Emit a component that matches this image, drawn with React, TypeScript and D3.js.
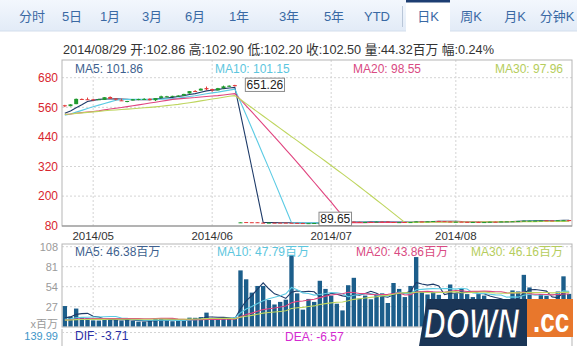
import React from 'react';
import * as d3 from 'd3';

const FONT = '"Liberation Sans", Arial, "Noto Sans CJK SC", sans-serif';

// ---------- data ----------
const dates = [
  '04/24','04/25','04/28','04/29','04/30',
  '05/01','05/02','05/05','05/06','05/07','05/08','05/09','05/12','05/13','05/14','05/15','05/16','05/19','05/20','05/21','05/22','05/23','05/27','05/28','05/29','05/30',
  '06/02','06/03','06/04','06/05','06/06','06/09','06/10','06/11','06/12','06/13','06/16','06/17','06/18','06/19','06/20','06/23','06/24','06/25','06/26','06/27','06/30',
  '07/01','07/02','07/03','07/07','07/08','07/09','07/10','07/11','07/14','07/15','07/16','07/17','07/18','07/21','07/22','07/23','07/24','07/25','07/28','07/29','07/30','07/31',
  '08/01','08/04','08/05','08/06','08/07','08/08','08/11','08/12','08/13','08/14','08/15','08/18','08/19','08/20','08/21','08/22','08/25','08/26','08/27','08/28','08/29'
];

const opens = [
  568.21,564.53,572.80,593.74,592.64,
  592.00,592.34,590.14,601.80,595.25,588.25,584.54,587.49,591.00,592.43,594.70,588.63,597.85,604.51,603.83,606.60,607.25,615.88,626.02,627.85,637.98,
  633.96,628.46,637.44,646.20,649.90,92.70,94.73,94.13,94.04,92.20,91.51,92.31,92.27,92.29,91.85,91.32,90.75,90.21,90.37,90.82,92.10,
  93.52,93.87,93.67,94.14,96.27,95.44,93.76,95.36,95.86,96.80,96.97,95.03,93.62,94.99,94.68,95.42,97.04,96.85,97.82,99.33,98.44,97.16,
  94.90,96.37,95.36,94.75,94.93,94.26,95.27,96.04,96.15,97.33,97.90,98.49,99.41,100.44,100.57,100.29,101.79,101.42,101.02,101.59,102.86
];
const highs = [
  570.00,571.99,595.75,595.98,599.43,
  594.80,594.20,601.00,604.41,597.29,594.41,586.25,593.66,594.54,597.40,596.60,597.53,607.33,606.40,606.70,609.85,614.73,625.86,629.83,636.87,644.17,
  634.83,638.74,647.89,649.37,651.26,93.88,95.05,94.76,94.12,92.44,92.75,92.70,92.29,92.30,92.55,91.62,91.74,90.70,91.05,92.00,93.73,
  94.07,94.06,94.10,95.99,96.80,95.95,95.55,95.89,96.89,96.85,97.10,95.28,94.74,95.00,94.89,97.88,97.32,97.84,99.24,99.44,98.70,97.45,
  96.62,96.58,95.68,95.48,95.95,94.82,96.08,96.88,97.24,97.57,98.19,99.37,100.68,101.09,100.94,101.47,102.17,101.50,102.57,102.78,102.90
];
const lows = [
  560.73,563.96,572.55,589.51,589.80,
  586.36,589.71,590.00,594.41,587.73,586.40,580.33,587.40,588.81,591.74,588.04,585.40,597.33,600.73,602.06,604.10,606.47,615.63,623.78,627.77,628.90,
  622.50,628.25,636.11,642.61,644.47,91.75,93.57,93.47,91.90,90.88,91.45,91.80,91.35,91.34,90.90,90.60,90.19,89.65,89.80,90.77,92.09,
  93.13,93.09,93.20,94.10,93.92,94.76,93.52,94.86,95.65,95.03,94.74,92.57,93.02,93.72,94.12,95.17,96.42,96.64,97.55,98.25,97.67,95.33,
  94.81,95.17,94.36,94.71,94.10,93.28,94.84,95.61,96.04,96.80,96.86,97.98,99.32,99.95,100.11,100.19,101.28,100.86,100.70,101.56,102.20
];
const closes = [
  567.77,571.94,594.09,592.33,590.09,
  591.48,592.58,600.96,594.41,592.33,587.99,585.54,592.83,593.76,593.87,588.82,597.51,604.59,604.71,606.31,607.27,614.13,625.63,624.01,635.38,633.00,
  628.65,637.54,644.82,647.35,645.57,93.70,94.25,93.86,92.29,91.28,92.20,92.08,92.18,91.86,90.91,90.83,90.28,90.36,90.90,91.98,92.93,
  93.52,93.48,94.03,95.97,95.35,95.39,95.04,95.22,96.45,95.32,94.78,93.09,94.43,93.94,94.72,97.19,97.03,97.67,99.02,98.38,98.15,95.60,
  96.13,95.59,95.12,94.96,94.48,94.74,95.99,95.97,97.24,97.50,97.98,99.16,100.53,100.57,100.58,101.32,101.54,100.89,102.13,102.25,102.50
];
// volume, millions
const volumes = [
  27.9,13.5,24.5,12.5,11.5,
  8.5,8.3,10.7,10.5,9.6,8.3,9.6,8.0,6.9,6.8,7.9,11.0,11.4,8.9,7.4,7.8,8.8,12.2,12.0,13.0,19.0,
  9.3,10.5,11.4,10.6,12.5,76.0,64.0,46.0,55.0,55.0,36.0,30.0,33.5,36.5,97.0,45.0,23.0,37.5,33.5,62.0,51.0,
  42.0,31.0,22.0,56.0,66.0,38.0,42.0,37.0,43.0,45.0,32.0,59.0,51.0,40.0,55.0,94.0,48.0,43.5,47.0,43.0,35.0,57.0,
  45.0,52.0,44.0,40.0,44.0,42.0,37.0,34.0,32.0,29.0,49.0,47.6,70.0,53.0,31.5,44.0,41.6,31.0,47.5,68.0,44.32
];
// sessions before the window (needed by the moving averages)
const preCloses = [
  524.69,524.94,526.74,531.40,531.26,528.70,532.87,539.19,544.99,539.78,537.46,536.86,536.74,541.65,542.55,
  538.79,531.82,523.47,523.44,530.32,519.01,519.61,521.68,517.96,519.01,524.94,531.17,531.70,524.75
];
const preVolumes = [
  8.9,7.4,8.8,8.6,7.5,7.6,7.5,9.2,10.0,7.0,6.9,7.1,6.6,7.9,7.0,
  5.9,10.5,12.5,9.7,8.5,8.3,9.6,7.1,8.9,6.9,6.7,7.5,7.4,10.0
];

const tabs = ['分时','5日','1月','3月','6月','1年','3年','5年','YTD','日K','周K','月K','分钟K'];
const monthTickDates = ['05/01','06/02','07/01','08/01'];
const monthTickLabels = ['2014/05','2014/06','2014/07','2014/08'];
const priceTicks = [80, 200, 320, 440, 560, 680];
const volTicks = [27, 54, 81, 108];
const maPeriods = [5, 10, 20, 30];
const priceLegendValues = ['101.86', '101.15', '98.55', '97.96'];
const volLegendValues = ['46.38', '47.79', '43.86', '46.16'];
const infoDate = '2014/08/29';
const macdTopLabel = '139.99';
const difValue = '-3.71';
const deaValue = '-6.57';

// ---------- helpers ----------
function movingAvg(pre: number[], vals: number[], n: number): number[] {
  const all = pre.concat(vals);
  return vals.map((_, i) => d3.mean(all.slice(pre.length + i - n + 1, pre.length + i + 1)) as number);
}

const tabCenters = [32, 72, 110, 152, 195, 239, 289, 334, 377, 428, 471, 515, 557];

export default function App() {
  const L = 62, R = 572;
  const x = d3.scaleBand<string>().domain(dates).range([L, R]).paddingInner(0.3).paddingOuter(0.15);
  const bw = x.bandwidth();
  const cx = (i: number) => (x(dates[i]) as number) + bw / 2;

  const pTop = 60, pBot = 226;
  const yP = d3.scaleLinear().domain([80, 680]).range([225.7, 77.7]);
  const vTop = 244, vBot = 327;
  const yV = d3.scaleLinear().domain([0, 108]).range([326.7, 246.7]);

  const maColors = ['#1d3a68', '#5ccbe4', '#e0447f', '#bed55e'];
  const legendColors = ['#3d5f8e', '#5cc6de', '#d94a82', '#b5cd5c'];
  const upColor = '#1f9a2e', downColor = '#e23a3a';

  const priceMAs = maPeriods.map(n => movingAvg(preCloses, closes, n));
  const volMAs = maPeriods.map(n => movingAvg(preVolumes, volumes, n));

  const lineGen = (y: d3.ScaleLinear<number, number>) =>
    d3.line<number>().x((_, i) => cx(i)).y(v => y(v));

  const last = closes.length - 1;
  const pct = ((closes[last] - closes[last - 1]) / closes[last - 1]) * 100;
  const info = `${infoDate} 开:${opens[last].toFixed(2)} 高:${highs[last].toFixed(2)} 低:${lows[last].toFixed(2)} 收:${closes[last].toFixed(2)} 量:${volumes[last].toFixed(2)}百万 幅:${pct.toFixed(2)}%`;

  const iMax = d3.maxIndex(highs);
  const iMin = d3.minIndex(lows);
  const boxH = 13.3;
  const textW = (s: string) => s.split('').reduce((a, ch) => a + (ch === '.' ? 3.34 : 6.67), 0);
  const markBox = (i: number, v: number) => {
    const label = v.toFixed(2);
    const w = textW(label) + 2.5;
    let by = yP(v) - boxH / 2;
    by = Math.max(pTop, Math.min(pBot - boxH - 0.5, by));
    const bx = cx(i) + 10.5;
    return (
      <g key={'mk' + i}>
        <rect x={bx} y={by} width={w} height={boxH} fill="#fff" stroke="#8a8a8a" strokeWidth={1} />
        <text x={bx + w / 2} y={by + boxH / 2 + 4.3} fontSize={12} fill="#222" textAnchor="middle">{label}</text>
      </g>
    );
  };

  const gridColor = '#d4d4d4';
  const monthXs = monthTickDates.map(d => dates.indexOf(d)).map(cx);

  return (
    <svg width={577} height={346} style={{ position: 'absolute', left: 0, top: 0, fontFamily: FONT }}>
      <defs>
        <linearGradient id="tabbg" x1="0" y1="0" x2="0" y2="1">
          <stop offset="0" stopColor="#f3f7fd" />
          <stop offset="1" stopColor="#e2ebf7" />
        </linearGradient>
        <clipPath id="clipP"><rect x={L} y={pTop} width={R - L} height={pBot - pTop} /></clipPath>
        <clipPath id="clipV"><rect x={L} y={vTop} width={R - L} height={vBot - vTop} /></clipPath>
      </defs>
      <rect x={0} y={0} width={577} height={346} fill="#fff" />

      {/* tab bar */}
      <rect x={0} y={0} width={577} height={31} fill="url(#tabbg)" />
      <line x1={0} x2={577} y1={31} y2={31} stroke="#d3deec" />
      <rect x={406} y={0} width={44} height={32} fill="#fff" />
      <rect x={406} y={0} width={44} height={2.5} fill="#1d3e72" />
      <line x1={402.5} x2={402.5} y1={6} y2={27} stroke="#b9c6d8" />
      {tabs.map((t, i) => (
        <text key={t} x={tabCenters[i]} y={21} fontSize={13} fill="#3a69a4" textAnchor="middle">{t}</text>
      ))}

      {/* info line */}
      <text x={63} y={54} fontSize={13} fill="#333" textLength={431} lengthAdjust="spacingAndGlyphs">{info}</text>

      {/* price panel grid */}
      {priceTicks.slice(1).map(t => (
        <line key={'pg' + t} x1={L} x2={R} y1={yP(t)} y2={yP(t)} stroke={gridColor} strokeDasharray="2,2" />
      ))}
      {monthXs.map((mx, k) => (
        <line key={'pv' + k} x1={mx} x2={mx} y1={pTop} y2={pBot} stroke={gridColor} strokeDasharray="2,2" />
      ))}
      <rect x={L} y={pTop} width={R - L} height={pBot - pTop} fill="none" stroke="#b5b5b5" />
      <line x1={L} x2={R} y1={pBot} y2={pBot} stroke="#8c8c8c" />
      {priceTicks.map(t => (
        <text key={'pt' + t} x={58} y={yP(t) + 4.3} fontSize={12} fill="#d8262e" textAnchor="end">{t}</text>
      ))}
      {monthXs.map((mx, k) => (
        <text key={'ml' + k} x={mx} y={240} fontSize={11.5} fill="#333" textAnchor="middle">{monthTickLabels[k]}</text>
      ))}

      {/* price MA lines and candles */}
      <g clipPath="url(#clipP)">
        {priceMAs.map((ma, k) => (
          <path key={'pma' + k} d={lineGen(yP)(ma) as string} fill="none" stroke={maColors[k]} strokeWidth={1.1} />
        ))}
        {dates.map((d, i) => {
          const up = closes[i] >= opens[i];
          const col = up ? upColor : downColor;
          const yo = yP(opens[i]), yc = yP(closes[i]);
          const top = Math.min(yo, yc);
          const h = Math.max(1, Math.abs(yo - yc));
          return (
            <g key={'c' + i}>
              <line x1={cx(i)} x2={cx(i)} y1={yP(highs[i])} y2={yP(lows[i])} stroke={col} strokeWidth={1} />
              <rect x={x(d) as number} y={top} width={bw} height={h} fill={col} />
            </g>
          );
        })}
      </g>
      {markBox(iMax, highs[iMax])}
      {markBox(iMin, lows[iMin])}

      {/* price legends */}
      {[75, 215, 353].map((lx, k) => (
        <text key={'pl' + k} x={lx} y={73} fontSize={12} fill={legendColors[k]}>{`MA${maPeriods[k]}: ${priceLegendValues[k]}`}</text>
      ))}
      <text x={563} y={73} fontSize={12} fill={legendColors[3]} textAnchor="end">{`MA${maPeriods[3]}: ${priceLegendValues[3]}`}</text>

      {/* volume panel */}
      {volTicks.map(t => (
        <line key={'vg' + t} x1={L} x2={R} y1={yV(t)} y2={yV(t)} stroke={gridColor} strokeDasharray="2,2" />
      ))}
      {monthXs.map((mx, k) => (
        <line key={'vv' + k} x1={mx} x2={mx} y1={vTop} y2={vBot} stroke={gridColor} strokeDasharray="2,2" />
      ))}
      {volTicks.map(t => (
        <text key={'vt' + t} x={58} y={yV(t) + 4} fontSize={11} fill="#9a9a9a" textAnchor="end">{t}</text>
      ))}
      <g clipPath="url(#clipV)">
        {dates.map((d, i) => (
          <rect key={'v' + i} x={(x(d) as number) - 0.2} y={yV(volumes[i])} width={bw + 0.4} height={yV(0) - yV(volumes[i])} fill="#1c5e8b" />
        ))}
        {volMAs.map((ma, k) => (
          <path key={'vma' + k} d={lineGen(yV)(ma) as string} fill="none" stroke={maColors[k]} strokeWidth={1.1} />
        ))}
      </g>
      <rect x={L} y={vTop} width={R - L} height={vBot - vTop} fill="none" stroke="#b5b5b5" />
      {[75, 217, 356].map((lx, k) => (
        <text key={'vl' + k} x={lx} y={256} fontSize={12} fill={legendColors[k]}>{`MA${maPeriods[k]}: ${volLegendValues[k]}百万`}</text>
      ))}
      <text x={563} y={256} fontSize={12} fill={legendColors[3]} textAnchor="end">{`MA${maPeriods[3]}: ${volLegendValues[3]}百万`}</text>

      {/* MACD panel (cut off) */}
      <line x1={L} x2={L} y1={329} y2={346} stroke="#b5b5b5" />
      <line x1={R} x2={R} y1={329} y2={346} stroke="#b5b5b5" />
      <line x1={L} x2={R} y1={332.5} y2={332.5} stroke={gridColor} strokeDasharray="2,2" />
      <text x={58} y={328} fontSize={11} fill="#9a9a9a" textAnchor="end">x百万</text>
      <text x={58} y={339.5} fontSize={11} fill="#3d95c8" textAnchor="end">{macdTopLabel}</text>
      <text x={75} y={340} fontSize={12} fill="#2a2fa5">{`DIF: ${difValue}`}</text>
      <text x={285} y={341} fontSize={12} fill="#d42ad0">{`DEA: ${deaValue}`}</text>

      {/* watermark */}
      <g>
        <polygon points="427,299 527,299 527,346 419,346" fill="#1a3556" />
        <text transform="translate(424,338) scale(1,1.42)" fontSize={30} fontWeight="bold" fontStyle="italic" fill="#fff"
          fontFamily='"Liberation Sans", Arial, sans-serif' stroke="#0e2440" strokeWidth={0.7}>DOWN</text>
        <rect x={527} y={299} width={46} height={38} fill="#e8772c" />
        <text transform="translate(533,332) scale(1,1.25)" fontSize={26} fontWeight="bold" fill="#fff"
          fontFamily='"Liberation Sans", Arial, sans-serif'>.cc</text>
      </g>
    </svg>
  );
}
